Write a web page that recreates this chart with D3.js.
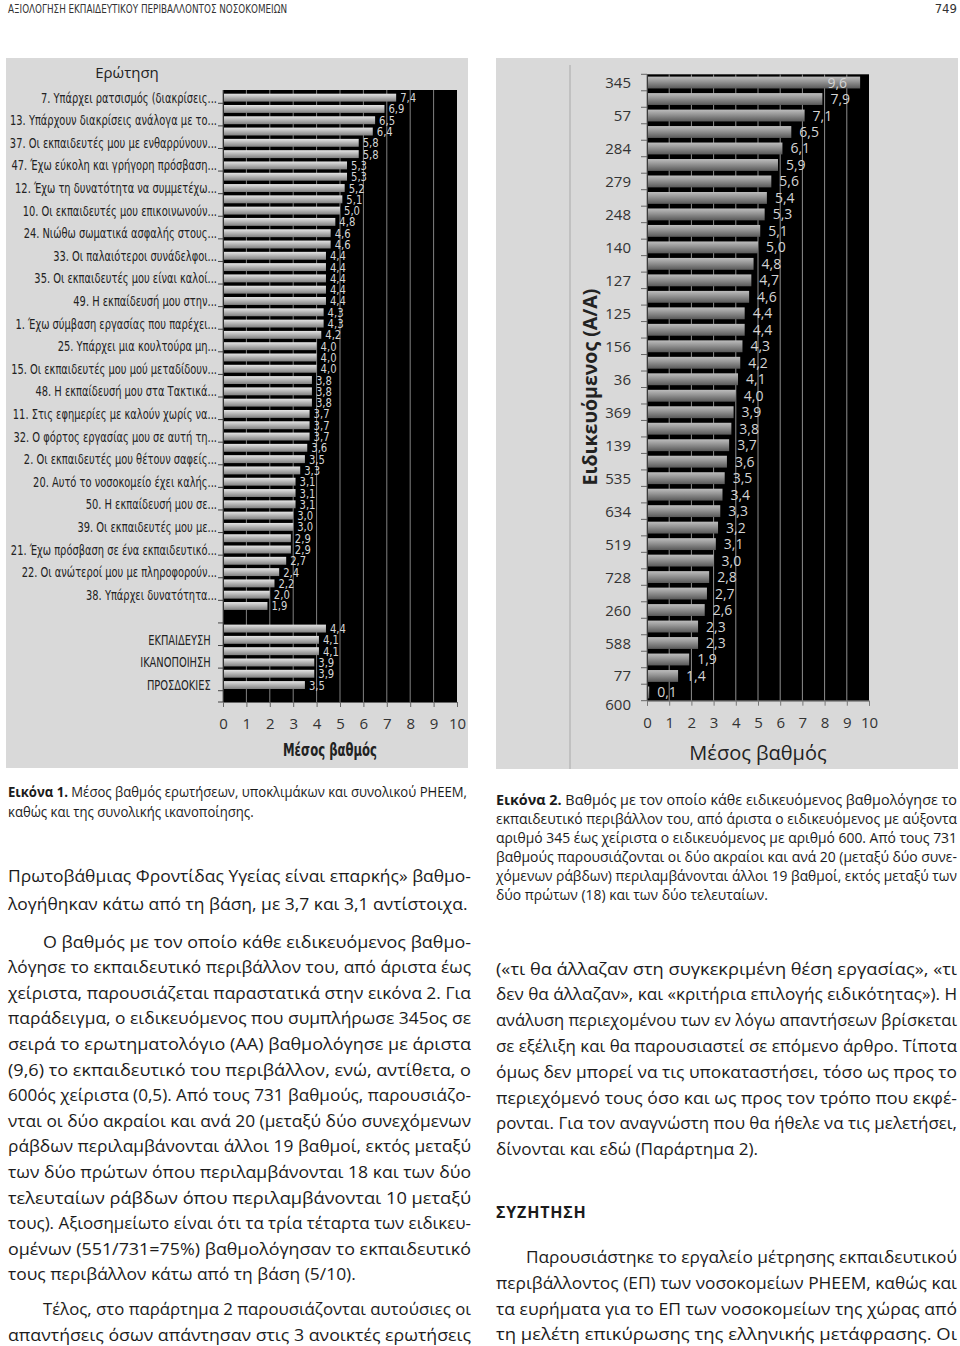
<!DOCTYPE html>
<html><head><meta charset="utf-8">
<script src="https://cdn.jsdelivr.net/npm/d3@7"></script>
<style>body{margin:0;background:#fff} svg{display:block} text{white-space:pre}</style>
</head><body>
<script>
// ---------------- DATA ----------------
const pageHeader = "ΑΞΙΟΛΟΓΗΣΗ ΕΚΠΑΙΔΕΥΤΙΚΟΥ ΠΕΡΙΒΑΛΛΟΝΤΟΣ ΝΟΣΟΚΟΜΕΙΩΝ";
const pageNumber = "749";

// Figure 1: question rows (only every other category label is printed)
const questionLabels = [
 "7. Υπάρχει ρατσισμός (διακρίσεις...", "", "13. Υπάρχουν διακρίσεις ανάλογα με το...", "",
 "37. Οι εκπαιδευτές μου με ενθαρρύνουν...", "", "47. Έχω εύκολη και γρήγορη πρόσβαση...", "",
 "12. Έχω τη δυνατότητα να συμμετέχω...", "", "10. Οι εκπαιδευτές μου επικοινωνούν...", "",
 "24. Νιώθω σωματικά ασφαλής στους...", "", "33. Οι παλαιότεροι συνάδελφοι...", "",
 "35. Οι εκπαιδευτές μου είναι καλοί...", "", "49. Η εκπαίδευσή μου στην...", "",
 "1. Έχω σύμβαση εργασίας που παρέχει...", "", "25. Υπάρχει μια κουλτούρα μη...", "",
 "15. Οι εκπαιδευτές μου μού μεταδίδουν...", "", "48. Η εκπαίδευσή μου στα Τακτικά...", "",
 "11. Στις εφημερίες με καλούν χωρίς να...", "", "32. Ο φόρτος εργασίας μου σε αυτή τη...", "",
 "2. Οι εκπαιδευτές μου θέτουν σαφείς...", "", "20. Αυτό το νοσοκομείο έχει καλής...", "",
 "50. Η εκπαίδευσή μου σε...", "", "39. Οι εκπαιδευτές μου με...", "",
 "21. Έχω πρόσβαση σε ένα εκπαιδευτικό...", "", "22. Οι ανώτεροί μου με πληροφορούν...", "",
 "38. Υπάρχει δυνατότητα...", "",
 "", "", "ΕΚΠΑΙΔΕΥΣΗ\u00a0\u00a0", "", "ΙΚΑΝΟΠΟΙΗΣΗ\u00a0\u00a0", "", "ΠΡΟΣΔΟΚΙΕΣ\u00a0\u00a0", ""
];
const questionScores = [
 7.4, 6.9, 6.5, 6.4, 5.8, 5.8, 5.3, 5.3, 5.2, 5.1, 5.0, 4.8, 4.6, 4.6,
 4.4, 4.4, 4.4, 4.4, 4.4, 4.3, 4.3, 4.2, 4.0, 4.0, 4.0, 3.8, 3.8, 3.8,
 3.7, 3.7, 3.7, 3.6, 3.5, 3.3, 3.1, 3.1, 3.1, 3.0, 3.0, 2.9, 2.9, 2.7,
 2.4, 2.2, 2.0, 1.9,
 null,
 4.4, 4.1, 4.1, 3.9, 3.9, 3.5,
 null
];
const fig1Title = "Ερώτηση";
const xAxisTitle = "Μέσος βαθμός";
const xTicks = [0,1,2,3,4,5,6,7,8,9,10];

// Figure 2: trainees
const traineeIds = ["345","","57","","284","","279","","248","","140","","127","","125","","156","",
 "36","","369","","139","","535","","634","","519","","728","","260","","588","","77","600"];
const traineeScores = [9.6, 7.9, 7.1, 6.5, 6.1, 5.9, 5.6, 5.4, 5.3, 5.1, 5.0, 4.8, 4.7, 4.6,
 4.4, 4.4, 4.3, 4.2, 4.1, 4.0, 3.9, 3.8, 3.7, 3.6, 3.5, 3.4, 3.3, 3.2, 3.1, 3.0,
 2.8, 2.7, 2.6, 2.3, 2.3, 1.9, 1.4, 0.1];
const fig2YTitle = "Ειδικευόμενος (Α/Α)";

// Text
const caption1 = [
 {bold:"Εικόνα 1.", t:" Μέσος βαθμός ερωτήσεων, υποκλιμάκων και συνολικού PHEEM,", j:true},
 {t:"καθώς και της συνολικής ικανοποίησης.", j:false}
];
const caption2 = [
 {bold:"Εικόνα 2.", t:" Βαθμός με τον οποίο κάθε ειδικευόμενος βαθμολόγησε το", j:true},
 {t:"εκπαιδευτικό περιβάλλον του, από άριστα ο ειδικευόμενος με αύξοντα", j:true},
 {t:"αριθμό 345 έως χείριστα ο ειδικευόμενος με αριθμό 600. Από τους 731", j:true},
 {t:"βαθμούς παρουσιάζονται οι δύο ακραίοι και ανά 20 (μεταξύ δύο συνε-", j:true},
 {t:"χόμενων ράβδων) περιλαμβάνονται άλλοι 19 βαθμοί, εκτός μεταξύ των", j:true},
 {t:"δύο πρώτων (18) και των δύο τελευταίων.", j:false}
];
const leftTop = [
 {t:"Πρωτοβάθμιας Φροντίδας Υγείας είναι επαρκής» βαθμο-", j:true},
 {t:"λογήθηκαν κάτω από τη βάση, με 3,7 και 3,1 αντίστοιχα.", j:false}
];
const leftMain = [
 {t:"Ο βαθμός με τον οποίο κάθε ειδικευόμενος βαθμο-", j:true, indent:true},
 {t:"λόγησε το εκπαιδευτικό περιβάλλον του, από άριστα έως", j:true},
 {t:"χείριστα, παρουσιάζεται παραστατικά στην εικόνα 2. Για", j:true},
 {t:"παράδειγμα, ο ειδικευόμενος που συμπλήρωσε 345ος σε", j:true},
 {t:"σειρά το ερωτηματολόγιο (ΑΑ) βαθμολόγησε με άριστα", j:true},
 {t:"(9,6) το εκπαιδευτικό του περιβάλλον, ενώ, αντίθετα, ο", j:true},
 {t:"600ός χείριστα (0,5). Από τους 731 βαθμούς, παρουσιάζο-", j:true},
 {t:"νται οι δύο ακραίοι και ανά 20 (μεταξύ δύο συνεχόμενων", j:true},
 {t:"ράβδων περιλαμβάνονται άλλοι 19 βαθμοί, εκτός μεταξύ", j:true},
 {t:"των δύο πρώτων όπου περιλαμβάνονται 18 και των δύο", j:true},
 {t:"τελευταίων ράβδων όπου περιλαμβάνονται 10 μεταξύ", j:true},
 {t:"τους). Αξιοσημείωτο είναι ότι τα τρία τέταρτα των ειδικευ-", j:true},
 {t:"ομένων (551/731=75%) βαθμολόγησαν το εκπαιδευτικό", j:true},
 {t:"τους περιβάλλον κάτω από τη βάση (5/10).", j:false}
];
const leftEnd = [
 {t:"Τέλος, στο παράρτημα 2 παρουσιάζονται αυτούσιες οι", j:true, indent:true},
 {t:"απαντήσεις όσων απάντησαν στις 3 ανοικτές ερωτήσεις", j:true}
];
const rightMain = [
 {t:"(«τι θα άλλαζαν στη συγκεκριμένη θέση εργασίας», «τι", j:true},
 {t:"δεν θα άλλαζαν», και «κριτήρια επιλογής ειδικότητας»). Η", j:true},
 {t:"ανάλυση περιεχομένου των εν λόγω απαντήσεων βρίσκεται", j:true},
 {t:"σε εξέλιξη και θα παρουσιαστεί σε επόμενο άρθρο. Τίποτα", j:true},
 {t:"όμως δεν μπορεί να τις υποκαταστήσει, τόσο ως προς το", j:true},
 {t:"περιεχόμενό τους όσο και ως προς τον τρόπο που εκφέ-", j:true},
 {t:"ρονται. Για τον αναγνώστη που θα ήθελε να τις μελετήσει,", j:true},
 {t:"δίνονται και εδώ (Παράρτημα 2).", j:false}
];
const sectionTitle = "ΣΥΖΗΤΗΣΗ";
const rightEnd = [
 {t:"Παρουσιάστηκε το εργαλείο μέτρησης εκπαιδευτικού", j:true, indent:true},
 {t:"περιβάλλοντος (ΕΠ) των νοσοκομείων PHEEM, καθώς και", j:true},
 {t:"τα ευρήματα για το ΕΠ των νοσοκομείων της χώρας από", j:true},
 {t:"τη μελέτη επικύρωσης της ελληνικής μετάφρασης. Οι", j:true}
];

// ---------------- DRAW ----------------
const NARROW = "'Liberation Sans Narrow','DejaVu Sans Condensed','Arial Narrow',sans-serif";
const SANS = "'Open Sans','Noto Sans','DejaVu Sans',sans-serif";
const fmt = v => d3.format(".1f")(v).replace(".", ",");

const svg = d3.select("body").append("svg").attr("width",960).attr("height",1346);
svg.append("rect").attr("width",960).attr("height",1346).attr("fill","#fff");
const defs = svg.append("defs");
function vgrad(id, stops){
  const g = defs.append("linearGradient").attr("id",id).attr("x1",0).attr("y1",0).attr("x2",0).attr("y2",1);
  stops.forEach(([o,c]) => g.append("stop").attr("offset",o).attr("stop-color",c));
}
vgrad("barL", [[0,"#e4e4e4"],[0.35,"#c2c2c2"],[1,"#808080"]]);
vgrad("barR", [[0,"#bdbdbd"],[0.4,"#979797"],[1,"#595959"]]);

// header
svg.append("text").attr("x",8).attr("y",13).attr("font-family",NARROW).attr("font-size",13)
  .attr("fill","#333").attr("textLength",279).attr("lengthAdjust","spacingAndGlyphs").text(pageHeader);
svg.append("text").attr("x",957).attr("y",13).attr("text-anchor","end").attr("font-family",NARROW)
  .attr("font-size",13).attr("fill","#333").text(pageNumber);

// panels
svg.append("rect").attr("x",6).attr("y",58).attr("width",462).attr("height",710).attr("fill","#d9d9d9");
svg.append("rect").attr("x",496).attr("y",58).attr("width",462).attr("height",711).attr("fill","#d9d9d9");

// ======= Figure 1 =======
(function(){
  const g = svg.append("g");
  const xL = d3.scaleLinear().domain([0,10]).range([223,457]);
  const yL = d3.scaleBand().domain(d3.range(questionLabels.length)).range([92,702])
     .paddingInner(0.3).paddingOuter(0.15);
  const top = 90, bottom = 702;
  g.append("rect").attr("x",xL(0)).attr("y",top).attr("width",xL(10)-xL(0)).attr("height",bottom-top).attr("fill","#000");
  g.selectAll("line.grid").data(xTicks.slice(1,-1)).join("line").attr("class","grid")
    .attr("x1",d=>xL(d)).attr("x2",d=>xL(d)).attr("y1",top).attr("y2",bottom)
    .attr("stroke","#808080").attr("stroke-width",1);
  const bars = questionScores.map((v,i)=>({v,i})).filter(d=>d.v!=null);
  g.selectAll("rect.bar").data(bars).join("rect").attr("class","bar")
    .attr("x",xL(0)+1).attr("y",d=>yL(d.i)).attr("width",d=>xL(d.v)-xL(0)-1)
    .attr("height",yL.bandwidth()).attr("fill","url(#barL)");
  g.append("line").attr("x1",xL(0)).attr("x2",xL(0)).attr("y1",top).attr("y2",bottom).attr("stroke","#666");
  const step = yL.step(), y0 = yL.range()[0];
  const tk = d3.range(1, questionLabels.length, 2).concat([questionLabels.length]);
  g.selectAll("line.yt").data(tk).join("line").attr("class","yt")
    .attr("x1",xL(0)-5).attr("x2",xL(0)).attr("y1",d=>y0+d*step).attr("y2",d=>y0+d*step)
    .attr("stroke","#444");
  const ax = g.append("g").attr("transform",`translate(0,${bottom})`)
    .call(d3.axisBottom(xL).tickValues(xTicks).tickSize(5).tickPadding(11).tickFormat(d3.format("d")));
  ax.select(".domain").attr("stroke","#666");
  ax.selectAll(".tick line").attr("stroke","#666");
  ax.selectAll("text").attr("font-family",SANS).attr("font-size",15).attr("fill","#333");
  g.append("text").attr("x",283).attr("y",756).attr("font-family",NARROW)
    .attr("font-weight","bold").attr("font-size",18).attr("fill","#222")
    .attr("textLength",94).attr("lengthAdjust","spacingAndGlyphs").text(xAxisTitle);
  g.append("text").attr("x",127).attr("y",78).attr("text-anchor","middle").attr("font-family",SANS)
    .attr("font-size",15).attr("fill","#222").text(fig1Title);
  const labs = g.selectAll("text.cat").data(questionLabels.map((t,i)=>({t,i})).filter(d=>d.t)).join("text")
    .attr("class","cat").attr("text-anchor","end").attr("font-family",NARROW).attr("font-size",14)
    .attr("fill","#222").text(d=>d.t);
  const refW = labs.filter(d=>d.i===2).node().getComputedTextLength();
  const k = Math.max(0.6, Math.min(1.2, 207/refW));
  labs.attr("transform", d=>`translate(217,${yL(d.i)+yL.bandwidth()/2+5}) scale(${k},1)`);
  const vals = g.selectAll("text.val").data(bars).join("text").attr("class","val")
    .attr("font-family",NARROW).attr("font-size",12).attr("fill","#d6d6d6").text(d=>fmt(d.v));
  const vw = vals.node().getComputedTextLength();
  const kv = Math.max(0.7, Math.min(1.3, 16/vw));
  vals.attr("transform", d=>`translate(${xL(d.v)+4},${yL(d.i)+yL.bandwidth()/2+4.5}) scale(${kv},1)`);
})();

// ======= Figure 2 =======
(function(){
  const g = svg.append("g");
  const xR = d3.scaleLinear().domain([0,10]).range([647,869]);
  const top = 74.3, bottom = 700.7;
  const yR = d3.scaleBand().domain(d3.range(traineeScores.length)).range([top,bottom])
     .paddingInner(0.28).paddingOuter(0.14);
  g.append("line").attr("x1",570).attr("x2",570).attr("y1",65).attr("y2",769).attr("stroke","#a9a9a9");
  g.append("rect").attr("x",xR(0)).attr("y",top).attr("width",xR(10)-xR(0)).attr("height",bottom-top).attr("fill","#000");
  g.selectAll("line.grid").data(xTicks.slice(1,-1)).join("line").attr("class","grid")
    .attr("x1",d=>xR(d)).attr("x2",d=>xR(d)).attr("y1",top).attr("y2",bottom)
    .attr("stroke","#8f8f8f").attr("stroke-width",1);
  const bars = traineeScores.map((v,i)=>({v,i}));
  g.selectAll("rect.bar").data(bars).join("rect").attr("class","bar")
    .attr("x",xR(0)+1).attr("y",d=>yR(d.i)).attr("width",d=>Math.max(1,xR(d.v)-xR(0)-1))
    .attr("height",yR.bandwidth()).attr("fill","url(#barR)");
  g.append("line").attr("x1",xR(0)).attr("x2",xR(0)).attr("y1",top).attr("y2",bottom).attr("stroke","#777");
  const step = yR.step();
  g.selectAll("line.yt").data(d3.range(0, traineeScores.length+1)).join("line").attr("class","yt")
    .attr("x1",xR(0)-6).attr("x2",xR(0)).attr("y1",d=>top+d*step).attr("y2",d=>top+d*step)
    .attr("stroke","#666");
  const ax = g.append("g").attr("transform",`translate(0,${bottom})`)
    .call(d3.axisBottom(xR).tickValues(xTicks).tickSize(5).tickPadding(12).tickFormat(d3.format("d")));
  ax.select(".domain").attr("stroke","#777");
  ax.selectAll(".tick line").attr("stroke","#777");
  ax.selectAll("text").attr("font-family",SANS).attr("font-size",15).attr("fill","#333");
  const last = traineeIds.length-1;
  g.selectAll("text.cat").data(traineeIds.map((t,i)=>({t,i})).filter(d=>d.t)).join("text")
    .attr("class","cat").attr("text-anchor","end").attr("x",631)
    .attr("y",d=>yR(d.i)+yR.bandwidth()/2+5.5+(d.i===last? step*0.75:0))
    .attr("font-family",SANS).attr("font-size",15).attr("fill","#333").text(d=>d.t);
  const vals = g.selectAll("text.val").data(bars).join("text").attr("class","val")
    .attr("font-family",SANS).attr("font-size",14).attr("fill","#d4d4d4")
    .attr("y",d=>yR(d.i)+yR.bandwidth()/2+5).text(d=>fmt(d.v));
  vals.each(function(d){
    const w = this.getComputedTextLength();
    const sel = d3.select(this);
    if (xR(d.v)+9+w > xR(10)) sel.attr("x", xR(d.v)-13).attr("text-anchor","end");
    else sel.attr("x", xR(d.v)+8);
  });
  g.append("text").attr("x",758).attr("y",760).attr("text-anchor","middle").attr("font-family",SANS)
    .attr("font-size",20).attr("fill","#222").text(xAxisTitle);
  g.append("text").attr("transform","translate(597,387) rotate(-90)").attr("text-anchor","middle")
    .attr("font-family",SANS).attr("font-weight","bold").attr("font-size",19.5).attr("fill","#222").text(fig2YTitle);
})();

// ======= Text blocks =======
function drawBlock(lines, o){
  const g = svg.append("g").attr("font-family",o.family||SANS).attr("font-size",o.size).attr("fill","#1b1b1b");
  const nodes = lines.map((ln,i)=>{
    const ind = ln.indent ? o.indent : 0;
    const t = g.append("text").attr("x",o.x0+ind).attr("y",o.y0+i*o.step);
    if (ln.bold) t.append("tspan").attr("font-weight","bold").text(ln.bold);
    t.append("tspan").text(ln.t);
    return {t, ln, ind, nat:t.node().getComputedTextLength()};
  });
  const ratios = nodes.filter(n=>n.ln.j).map(n=>(o.x1-o.x0-n.ind)/n.nat);
  const r = d3.median(ratios) || 1;
  nodes.forEach(n=>{
    const w = n.ln.j ? (o.x1-o.x0-n.ind) : n.nat*r;
    n.t.attr("textLength",w).attr("lengthAdjust","spacingAndGlyphs");
  });
}
drawBlock(caption1, {x0:8, x1:467, y0:797, step:19.5, size:13.8});
drawBlock(caption2, {x0:496, x1:957, y0:805, step:19, size:13.6});
drawBlock(leftTop, {x0:8, x1:471, y0:881.5, step:28, size:16});
drawBlock(leftMain, {x0:8, x1:471, y0:947.5, step:25.6, size:16, indent:35});
drawBlock(leftEnd, {x0:8, x1:471, y0:1314.5, step:26, size:16, indent:35});
drawBlock(rightMain, {x0:496, x1:957, y0:974.5, step:25.8, size:16});
svg.append("text").attr("x",496).attr("y",1218).attr("font-family",SANS).attr("font-weight","bold")
  .attr("font-size",16).attr("fill","#1b1b1b").attr("letter-spacing",0.8).text(sectionTitle);
drawBlock(rightEnd, {x0:496, x1:957, y0:1263, step:25.8, size:16, indent:30});
</script>
</body></html>
